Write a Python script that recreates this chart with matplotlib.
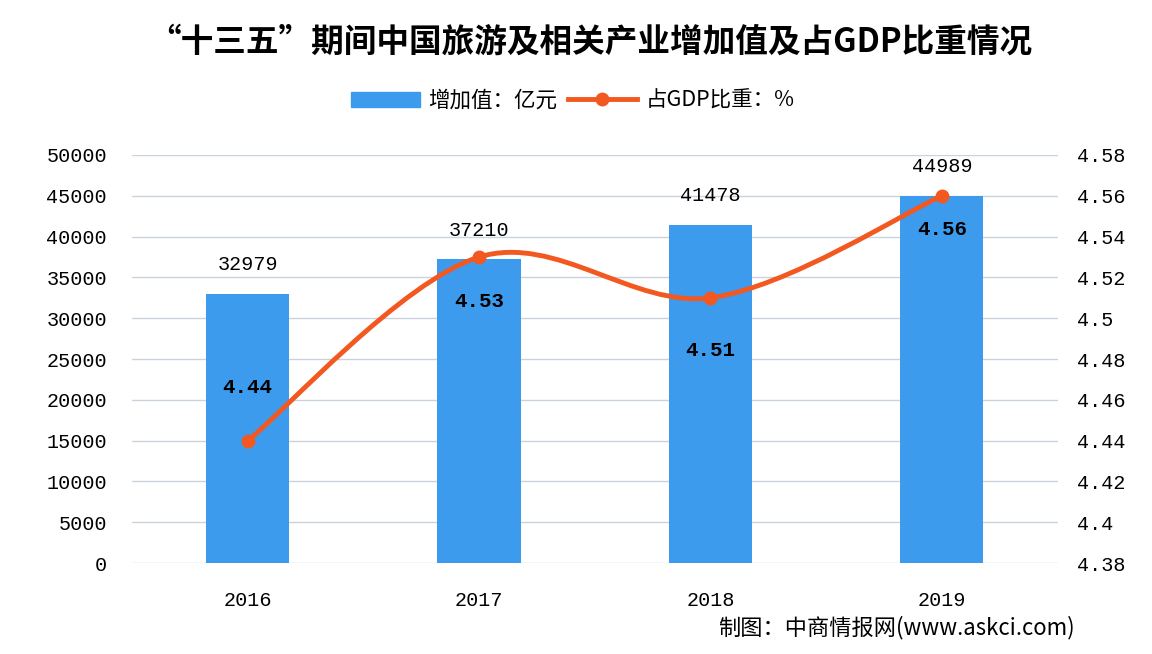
import matplotlib
matplotlib.use('Agg')
import matplotlib.pyplot as plt
from matplotlib.path import Path
from matplotlib.patches import PathPatch, Patch
from matplotlib.lines import Line2D

plt.rcParams['font.family'] = ['Noto Sans CJK SC', 'DejaVu Sans']

# data
years = ['2016', '2017', '2018', '2019']
added_value = [32979, 37210, 41478, 44989]   # 亿元
gdp_share = [4.44, 4.53, 4.51, 4.56]         # %

bar_color = '#3D9BEE'
line_color = '#F2581F'
num_font = ['Liberation Mono', 'DejaVu Sans Mono']

fig = plt.figure(figsize=(11.52, 6.54), dpi=100)
ax = fig.add_axes([0.1146, 0.139, 0.8034, 0.624])
ax2 = ax.twinx()

x = list(range(len(years)))
ax.bar(x, added_value, width=0.36, color=bar_color, zorder=2)
ax.set_xlim(-0.5, 3.5)
ax.set_ylim(0, 50000)
ax.set_yticks(range(0, 50001, 5000))
ax.set_xticks(x)
ax.set_xticklabels(years, fontsize=14, family=num_font)
ax.grid(axis='y', color='#C9D3DE', linewidth=1, zorder=0)
ax.set_axisbelow(True)
for s in ax.spines.values():
    s.set_visible(False)
for s in ax2.spines.values():
    s.set_visible(False)
ax.tick_params(axis='y', length=0, labelsize=14.5, pad=18)
ax.tick_params(axis='x', length=0, labelsize=14.5, pad=20)
for lab in ax.get_yticklabels():
    lab.set_family(num_font)

ax2.set_ylim(4.38, 4.58)
ax2.set_yticks([4.38, 4.40, 4.42, 4.44, 4.46, 4.48, 4.50, 4.52, 4.54, 4.56, 4.58])
ax2.set_yticklabels(['4.38', '4.4', '4.42', '4.44', '4.46', '4.48', '4.5',
                     '4.52', '4.54', '4.56', '4.58'], family=num_font)
ax2.tick_params(axis='y', length=0, labelsize=14.5, pad=14)

# smooth line (Excel style bezier through the points)
t = 1.0 / 6
verts = [(x[0], gdp_share[0])]
codes = [Path.MOVETO]
n = len(x)
for i in range(n - 1):
    p0 = (x[max(i - 1, 0)], gdp_share[max(i - 1, 0)])
    p1 = (x[i], gdp_share[i])
    p2 = (x[i + 1], gdp_share[i + 1])
    p3 = (x[min(i + 2, n - 1)], gdp_share[min(i + 2, n - 1)])
    c1 = (p1[0] + (p2[0] - p0[0]) * t, p1[1] + (p2[1] - p0[1]) * t)
    c2 = (p2[0] - (p3[0] - p1[0]) * t, p2[1] - (p3[1] - p1[1]) * t)
    verts += [c1, c2, p2]
    codes += [Path.CURVE4] * 3
ax2.add_patch(PathPatch(Path(verts, codes), facecolor='none',
                        edgecolor=line_color, linewidth=3.5, zorder=3))
ax2.plot(x, gdp_share, linestyle='none', marker='o', markersize=9,
         color=line_color, zorder=4)

# labels
for xi, v in zip(x, added_value):
    ax.annotate(str(v), (xi, v), xytext=(0, 21), textcoords='offset points',
                ha='center', va='center', fontsize=14.5, family=num_font)
offsets = [38, -32, -38, -24]
for xi, v, off in zip(x, gdp_share, offsets):
    ax2.annotate(f'{v:.2f}', (xi, v), xytext=(0, off), textcoords='offset points',
                 ha='center', va='center', fontsize=15, fontweight='bold',
                 family=num_font)

fig.text(0.512, 0.935, '“十三五”期间中国旅游及相关产业增加值及占GDP比重情况',
         ha='center', va='center', fontsize=23.5, fontweight='bold')

# legend
handles = [Patch(color=bar_color, label='增加值：亿元'),
           Line2D([], [], color=line_color, linewidth=3.5, marker='o',
                  markersize=9, label='占GDP比重：%')]
fig.legend(handles=handles, loc='center', bbox_to_anchor=(0.497, 0.846),
           ncol=2, frameon=False, fontsize=15.5, handlelength=3.2,
           columnspacing=0.5, handletextpad=0.4)

fig.text(0.933, 0.041, '制图：中商情报网(www.askci.com)', ha='right',
         va='center', fontsize=16)

fig.savefig('out.png', dpi=100)
